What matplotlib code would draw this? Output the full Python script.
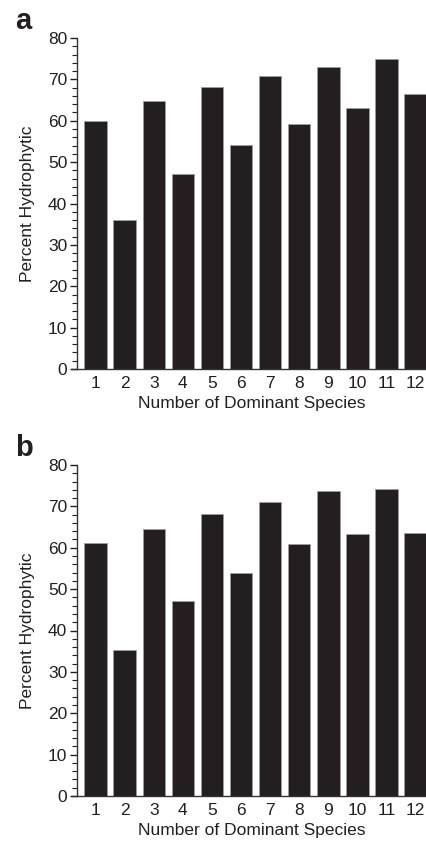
import matplotlib.pyplot as plt
import numpy as np
from matplotlib.ticker import MultipleLocator

plt.rcParams['font.family'] = ['Liberation Sans', 'DejaVu Sans']

species = np.arange(1, 13)
pct_a = [60.0, 36.0, 64.7, 47.1, 68.1, 54.2, 70.7, 59.1, 72.9, 63.1, 75.0, 66.4]
pct_b = [61.1, 35.4, 64.5, 47.1, 68.2, 53.9, 71.0, 60.9, 73.6, 63.4, 74.2, 63.6]
panel_labels = ['a', 'b']

W, H = 427, 841
fig = plt.figure(figsize=(W / 100, H / 100), dpi=100)

# axes boxes in pixels: left, top, right, bottom
boxes = [(77, 38, 427, 369), (77, 465, 427, 796)]

for vals, lab, (l, t, r, b) in zip([pct_a, pct_b], panel_labels, boxes):
    ax = fig.add_axes([l / W, 1 - b / H, (r - l) / W, (b - t) / H])
    ax.bar(species, vals, width=0.77, color='#231f20', edgecolor='#a0a0a0', linewidth=0.5)
    ax.set_xlim(0.364, 12.39)
    ax.set_ylim(0, 80)
    for s in ['top', 'right']:
        ax.spines[s].set_visible(False)
    for s in ['left', 'bottom']:
        ax.spines[s].set_linewidth(1.0)
        ax.spines[s].set_color('#333333')
    ax.spines['bottom'].set_bounds(0.364 - 5 / 29.1, 12.39)
    ax.set_xticks(species)
    ax.yaxis.set_major_locator(MultipleLocator(10))
    ax.yaxis.set_minor_locator(MultipleLocator(2))
    ax.tick_params(axis='x', length=0, pad=5, labelsize=12.5, colors='#231f20')
    ax.tick_params(axis='y', which='major', length=5, width=1, pad=2, labelsize=12.5, colors='#231f20')
    ax.tick_params(axis='y', which='minor', length=3.5, width=0.8, colors='#231f20')
    ax.set_xlabel('Number of Dominant Species', fontsize=12.5, labelpad=3.5, color='#231f20')
    ax.set_ylabel('Percent Hydrophytic', fontsize=12.5, labelpad=9, color='#231f20')
    fig.text(15 / W, 1 - (t - 9) / H, lab, fontsize=21, fontweight='bold',
             ha='left', va='baseline', color='#231f20')

fig.savefig('out.png', dpi=100)
